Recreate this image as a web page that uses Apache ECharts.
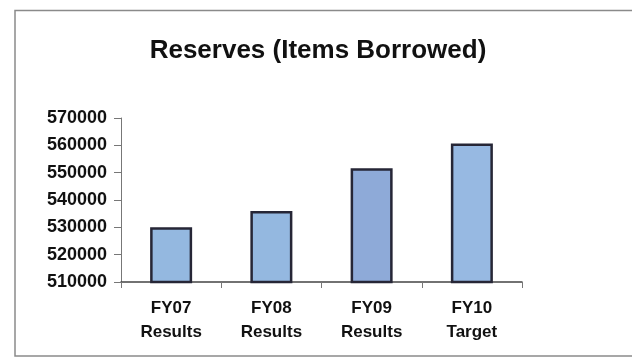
<!DOCTYPE html>
<html>
<head>
<meta charset="utf-8">
<script src="https://cdn.jsdelivr.net/npm/echarts@6/dist/echarts.min.js"></script>
<style>
html,body{margin:0;padding:0;background:#fff;}
#c{width:632px;height:357px;}
</style>
</head>
<body>
<div id="c"></div>
<script>
const titleText = "Reserves (Items Borrowed)";
const categories = ["FY07\nResults", "FY08\nResults", "FY09\nResults", "FY10\nTarget"];
const values = [530000, 536000, 551600, 560700];
const barColors = ["#94b8e0", "#94b8e0", "#8eaad8", "#97b9e2"];
const yMin = 510000, yMax = 570000, yStep = 10000;

const chart = echarts.init(document.getElementById('c'), null, {renderer: 'canvas'});
const font = "'Liberation Sans', Arial, sans-serif";
chart.setOption({
  animation: false,
  backgroundColor: '#fff',
  graphic: [{
    type: 'rect', shape: {x: 15, y: 10.5, width: 640, height: 345.5},
    style: {fill: 'none', stroke: '#8a8a8a', lineWidth: 1.5}
  }],
  title: {
    text: titleText, left: 313, top: 33, textAlign: 'center',
    textStyle: {fontFamily: font, fontWeight: 'bold', fontSize: 26, color: '#111'}
  },
  grid: {left: 121, right: 110, top: 118, bottom: 75},
  xAxis: {
    type: 'category', data: categories,
    axisLine: {lineStyle: {color: '#444', width: 1.5}},
    axisTick: {show: true, length: 6, lineStyle: {color: '#777'}},
    axisLabel: {fontFamily: font, fontWeight: 'bold', fontSize: 17, color: '#111', lineHeight: 24, margin: 14}
  },
  yAxis: {
    type: 'value', min: yMin, max: yMax, interval: yStep,
    splitLine: {show: false},
    axisLine: {show: true, lineStyle: {color: '#777', width: 1}},
    axisTick: {show: true, length: 7, lineStyle: {color: '#777'}},
    axisLabel: {fontFamily: font, fontWeight: 'bold', fontSize: 18, color: '#111', margin: 14,
      formatter: v => String(v)}
  },
  series: [{
    type: 'bar', barWidth: 42,
    data: values.map((v, i) => ({value: v, itemStyle: {color: barColors[i]}})),
    itemStyle: {borderColor: '#262636', borderWidth: 2.5}
  }]
});
</script>
</body>
</html>
